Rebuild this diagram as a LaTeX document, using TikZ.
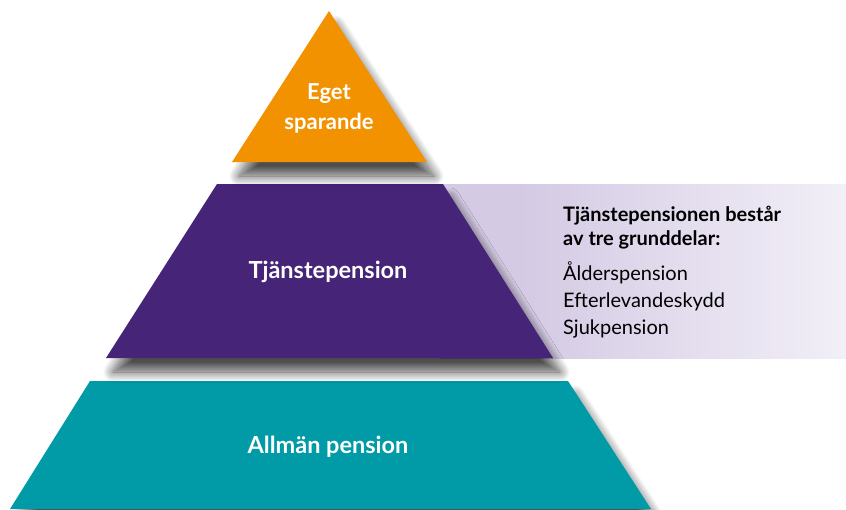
\documentclass[tikz,border=0pt]{standalone}
\usepackage{fontspec}
\setmainfont{Lato}
\usetikzlibrary{shadows.blur}
\definecolor{orangeC}{RGB}{243,146,0}
\definecolor{purpleC}{RGB}{70,36,120}
\definecolor{tealC}{RGB}{0,155,166}
\definecolor{lavC}{RGB}{212,202,228}
\pgfdeclarehorizontalshading{panelshade}{100bp}{color(0bp)=(lavC); color(35bp)=(lavC); color(92bp)=(white); color(100bp)=(white)}
\tikzset{
  tier/.style={blur shadow={shadow xshift=7pt, shadow yshift=-14pt, shadow blur radius=10pt, shadow blur steps=16, shadow opacity=70}},
  tierlabel/.style={text=white, font=\bfseries\fontsize{23.5}{30}\selectfont, align=center},
  sidehead/.style={font=\bfseries\fontsize{20}{24}\selectfont, align=left, anchor=north west, inner sep=0pt},
  sidelist/.style={font=\fontsize{20}{27}\selectfont, align=left, anchor=north west, inner sep=0pt}
}
\begin{document}
\begin{tikzpicture}[x=1pt,y=-1pt]
\useasboundingbox (0,0) rectangle (846,509);
% side panel
\fill[shading=panelshade] (440,184) rectangle (846,358);
% tiers
\fill[tealC, tier] (90,381) -- (568,381) -- (651,509) -- (10,509) -- cycle;
\fill[purpleC, tier] (217,184) -- (443,184) -- (553,358) -- (106,358) -- cycle;
\fill[orangeC, tier] (329,11) -- (427,162) -- (232,162) -- cycle;
% labels
\node[tierlabel, font=\bfseries\fontsize{22}{30}\selectfont] (top) at (329,108) {Eget\\sparande};
\node[tierlabel] (mid) at (328,272) {Tjänstepension};
\node[tierlabel] (bot) at (328,447) {Allmän pension};
\node[sidehead] (head) at (563,206) {Tjänstepensionen består\\av tre grunddelar:};
\node[sidelist] (list) at (563,262) {Ålderspension\\Efterlevandeskydd\\Sjukpension};
\end{tikzpicture}
\end{document}
